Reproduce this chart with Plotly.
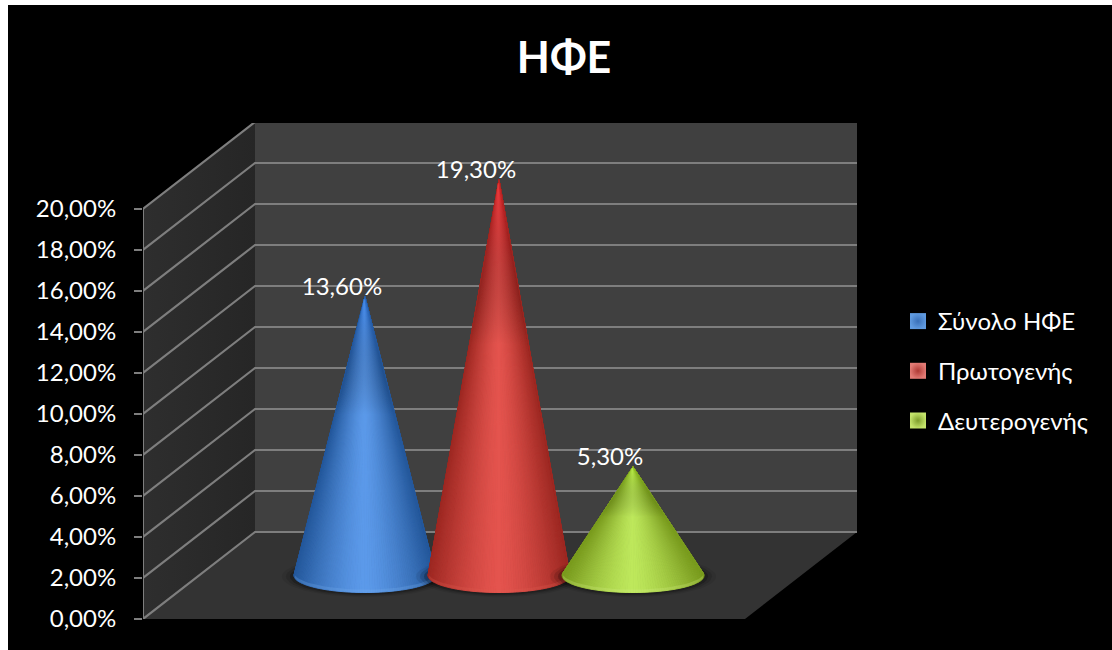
import numpy as np
import plotly.graph_objects as go

TITLE = "ΗΦΕ"
SERIES = ["Σύνολο ΗΦΕ", "Πρωτογενής", "Δευτερογενής"]
VALUES = [13.6, 19.3, 5.3]
VALUE_LABELS = ["13,60%", "19,30%", "5,30%"]
TICK_VALUES = [0, 2, 4, 6, 8, 10, 12, 14, 16, 18, 20]
TICK_LABELS = ["0,00%", "2,00%", "4,00%", "6,00%", "8,00%", "10,00%",
               "12,00%", "14,00%", "16,00%", "18,00%", "20,00%"]

FONT = "Lato, 'Noto Sans', sans-serif"
W, H = 1112, 650
L, R, T, B = 143, 858, 123, 619
UX = 200.67  # px per category unit
UY = 20.5    # px per percentage point
DX, DY = 112 / UX, 87 / UY  # oblique depth offset
XMAX, YMAX = (R - L) / UX, (B - T) / UY
CONE_CENTERS = [1.495 + (i - 1) * 0.668 for i in range(3)]
CONE_A, CONE_B = 71 / UX, 17 / UY

STYLES = [
    dict(edge=(36, 88, 156), mid=(92, 154, 234), rim=(120, 175, 240), top="rgba(60,140,255,0.55)", legend="#3a70b8", legend_mid="#5f9ae0"),
    dict(edge=(158, 40, 34), mid=(228, 84, 78), rim=(225, 90, 80), top="rgba(255,40,50,0.6)", legend="#b03a35", legend_mid="#e27a74"),
    dict(edge=(122, 156, 30), mid=(190, 232, 92), rim=(210, 240, 130), top="rgba(185,250,50,0.5)", legend="#7f9f2c", legend_mid="#c3e36a"),
]


def project(x, depth, y):
    return x + depth * DX, y + depth * DY


def poly(points):
    pts = list(points) + [points[0]]
    return [p[0] for p in pts], [p[1] for p in pts]


def ellipse(cx, cy, a, b):
    ts = np.linspace(0, 2 * np.pi, 61)
    return list(zip(cx + a * np.cos(ts), cy + b * np.sin(ts)))


def mix(c1, c2, f):
    return "rgb(%d,%d,%d)" % tuple(round(p + (q - p) * f) for p, q in zip(c1, c2))


fig = go.Figure()


def add_fill(points, color=None, gradient=None, outline=False):
    xs, ys = poly(points)
    kw = dict(fillgradient=gradient) if gradient else dict(fillcolor=color)
    line = dict(width=1, color=color) if outline else dict(width=0)
    fig.add_trace(go.Scatter(x=xs, y=ys, mode="lines", line=line, fill="toself",
                             showlegend=False, hoverinfo="skip", **kw))


# Walls and floor
add_fill([project(0, 0, 0), project(0, 1, 0), project(0, 1, YMAX - DY), project(0, 0, YMAX - DY)],
         gradient=dict(type="horizontal", colorscale=[[0, "#2e2e2e"], [1, "#262626"]]))
add_fill([project(0, 1, 0), project(3, 1, 0), project(3, 1, YMAX - DY), project(0, 1, YMAX - DY)], color="#404040")
add_fill([project(0, 0, 0), project(3, 0, 0), project(3, 1, 0), project(0, 1, 0)], color="#333333")

# Gridlines
gx, gy = [], []
for v in TICK_VALUES:
    for p in (project(0, 0, v), project(0, 1, v), project(3, 1, v)):
        gx.append(p[0]); gy.append(p[1])
    gx.append(None); gy.append(None)
fig.add_trace(go.Scatter(x=gx, y=gy, mode="lines", line=dict(color="#7e7e7e", width=2.2),
                         showlegend=False, hoverinfo="skip"))
# Value axis line
fig.add_trace(go.Scatter(x=[0, 0], y=[TICK_VALUES[0], TICK_VALUES[-1]], mode="lines",
                         line=dict(color="#7e7e7e", width=2), showlegend=False, hoverinfo="skip"))

# Cones: each is a fan of facets from the apex to the base ellipse
N_FACETS = 90
for cx0, val, st in zip(CONE_CENTERS, VALUES, STYLES):
    cx, base_y = project(cx0, 0.5, 0)
    # soft contact shadow
    for grow, alpha in ((12, 0.08), (8, 0.12), (4, 0.22)):
        add_fill(ellipse(cx, base_y - 0.05, CONE_A + grow / UX, CONE_B + grow * 0.3 / UY),
                 color=f"rgba(0,0,0,{alpha})")
    t0 = np.arcsin(min(CONE_B / val, 0.99))
    ts = np.linspace(np.pi - t0, 2 * np.pi + t0, N_FACETS + 1)
    apex = (cx, base_y + val)
    for a, b in zip(ts[:-1], ts[1:]):
        tm = (a + b) / 2
        u = abs(np.cos(tm))  # 0 at the axis, 1 at the silhouette
        f = 1 - u ** 1.4
        col = mix(st["edge"], st["mid"], f)
        add_fill([apex,
                  (cx + CONE_A * np.cos(a), base_y + CONE_B * np.sin(a)),
                  (cx + CONE_A * np.cos(b), base_y + CONE_B * np.sin(b))],
                 color=col, outline=True)
    # saturated glow toward the tip
    tsil = np.linspace(np.pi - t0, 2 * np.pi + t0, 60)
    sil = [apex] + list(zip(cx + CONE_A * np.cos(tsil), base_y + CONE_B * np.sin(tsil)))
    add_fill(sil, gradient=dict(type="vertical", colorscale=[
        [0, "rgba(0,0,0,0)"], [0.6, "rgba(0,0,0,0)"], [1, st["top"]]]))
    # light rim along the base
    arc = np.linspace(np.pi * 1.05, np.pi * 1.95, 40)
    lower = list(zip(cx + CONE_A * np.cos(arc), base_y + CONE_B * np.sin(arc)))
    upper = list(zip(cx + CONE_A * np.cos(arc[::-1]), base_y + 3 / UY + CONE_B * np.sin(arc[::-1])))
    add_fill(lower + upper, color="rgba(%d,%d,%d,0.25)" % st["rim"])

# Value labels
for cx0, val, lab in zip(CONE_CENTERS, VALUES, VALUE_LABELS):
    x, y = project(cx0, 0.5, val)
    fig.add_trace(go.Scatter(x=[x - 23 / UX], y=[y + 7.5 / UY], mode="text", text=[lab],
                             textposition="middle center",
                             textfont=dict(color="#ffffff", size=24, family=FONT),
                             showlegend=False, hoverinfo="skip"))

# Legend entries
for name, st in zip(SERIES, STYLES):
    fig.add_trace(go.Scatter(x=[None], y=[None], mode="markers", name=name, legendgroup=name,
                             marker=dict(symbol="square", size=16, color=st["legend_mid"], line=dict(width=0),
                                         gradient=dict(type="radial", color=st["legend"])),
                             hoverinfo="skip"))

fig.update_layout(
    width=W, height=H, autosize=False,
    margin=dict(l=L, r=W - R, t=T, b=H - B, pad=0),
    paper_bgcolor="#ffffff", plot_bgcolor="rgba(0,0,0,0)",
    title=dict(text=f"<b>{TITLE}</b>", x=564 / W, xanchor="center", y=1 - 58 / H, yanchor="middle",
               font=dict(family=FONT, size=43, color="#ffffff")),
    xaxis=dict(range=[0, XMAX], visible=False, fixedrange=True),
    yaxis=dict(range=[0, YMAX], tickmode="array", tickvals=TICK_VALUES, ticktext=TICK_LABELS,
               showgrid=False, zeroline=False, showline=False,
               ticks="outside", ticklen=8, tickwidth=2, tickcolor="#7e7e7e", ticklabelstandoff=13,
               tickfont=dict(family=FONT, size=24, color="#ffffff"), fixedrange=True),
    legend=dict(x=(898 - L) / (R - L), y=(B - 299) / (B - T), xanchor="left", yanchor="top",
                bgcolor="rgba(0,0,0,0)",
                font=dict(family=FONT, size=24, color="#ffffff"), tracegroupgap=15.5,
                itemclick=False, itemdoubleclick=False),
    shapes=[dict(type="rect", xref="paper", yref="paper", layer="below",
                 x0=(8 - L) / (R - L), x1=(W - L) / (R - L),
                 y0=(B - H) / (B - T), y1=(B - 5) / (B - T),
                 fillcolor="#000000", line=dict(width=0))],
)

fig.write_html("out.html", config=dict(displayModeBar=False),
               post_script="document.body.style.margin='0';document.body.style.overflow='hidden';")
